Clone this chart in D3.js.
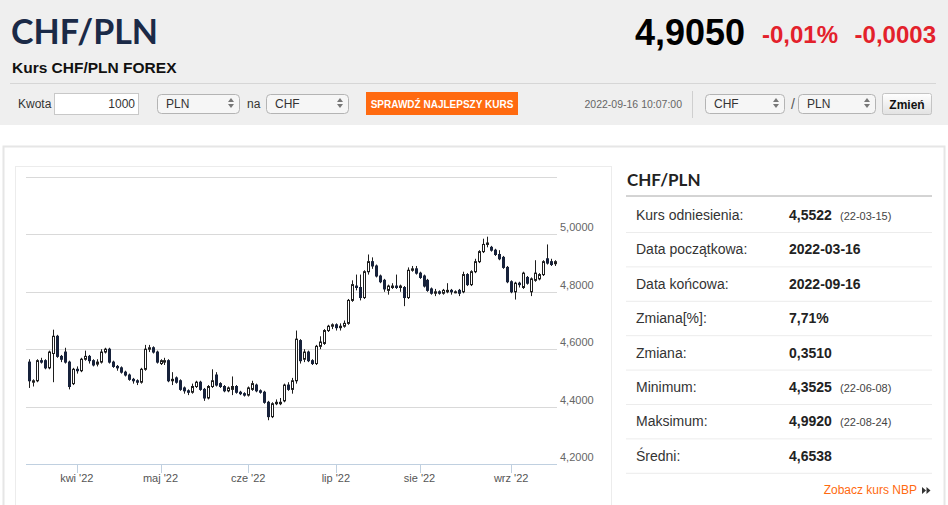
<!DOCTYPE html>
<html>
<head>
<meta charset="utf-8">
<script src="https://cdn.jsdelivr.net/npm/d3@7"></script>
<style>
  body { margin: 0; background: #fff; }
  svg { display: block; font-family: "Liberation Sans", Arial, sans-serif; }
</style>
</head>
<body>
<svg id="page" width="948" height="505"></svg>
<script>
// candles, one per trading day 2022-03-16 .. 2022-09-16
const open = [4.555,4.485,4.49,4.56,4.56,4.535,4.585,4.645,4.575,4.59,4.555,4.48,
  4.53,4.525,4.565,4.575,4.56,4.548,4.555,4.59,4.60,4.555,4.54,4.535,4.52,4.51,4.495,4.49,4.485,4.53,4.60,4.605,4.59,
  4.55,4.555,4.56,4.49,4.50,4.49,4.465,4.455,4.45,4.47,4.485,4.46,4.43,4.47,4.51,4.48,4.47,4.455,4.46,4.47,4.45,4.445,
  4.44,4.46,4.475,4.455,4.45,4.415,4.365,4.41,4.41,4.42,4.475,4.46,4.49,4.63,4.565,4.59,4.56,4.55,4.61,4.62,4.665,4.68,
  4.685,4.675,4.68,4.69,4.77,4.82,4.815,4.78,4.87,4.905,4.89,4.855,4.84,4.805,4.815,4.82,4.815,4.815,4.78,4.875,4.88,
  4.865,4.855,4.84,4.81,4.795,4.80,4.795,4.80,4.805,4.80,4.805,4.80,4.86,4.825,4.87,4.905,4.94,4.965,4.955,4.945,4.93,4.92,4.885,
  4.835,4.80,4.83,4.815,4.85,4.80,4.84,4.845,4.86,4.915,4.905,4.898];
const high = [4.565,4.495,4.565,4.57,4.565,4.595,4.668,4.65,4.58,4.605,4.56,4.535,
  4.54,4.57,4.595,4.58,4.565,4.565,4.60,4.605,4.605,4.56,4.545,4.54,4.525,4.515,4.50,4.495,4.535,4.615,4.615,4.61,4.595,
  4.565,4.57,4.565,4.52,4.505,4.495,4.47,4.46,4.48,4.49,4.49,4.465,4.475,4.53,4.52,4.485,4.475,4.47,4.505,4.475,4.455,4.45,
  4.47,4.49,4.48,4.46,4.455,4.42,4.415,4.425,4.43,4.48,4.485,4.50,4.665,4.635,4.60,4.595,4.565,4.615,4.645,4.67,4.685,4.69,
  4.69,4.69,4.70,4.775,4.84,4.86,4.86,4.875,4.93,4.92,4.895,4.86,4.845,4.825,4.83,4.86,4.825,4.82,4.885,4.89,4.89,
  4.87,4.86,4.845,4.815,4.81,4.805,4.81,4.83,4.81,4.805,4.81,4.87,4.865,4.875,4.915,4.945,4.985,4.992,4.96,4.95,4.945,4.925,4.89,
  4.84,4.835,4.835,4.87,4.855,4.85,4.91,4.865,4.91,4.965,4.915,4.91];
const low = [4.465,4.47,4.485,4.55,4.53,4.53,4.485,4.57,4.555,4.55,4.46,4.475,
  4.515,4.52,4.56,4.55,4.54,4.54,4.55,4.585,4.55,4.535,4.525,4.515,4.505,4.49,4.48,4.475,4.48,4.525,4.59,4.585,4.55,
  4.545,4.545,4.485,4.475,4.48,4.455,4.445,4.44,4.445,4.465,4.455,4.42,4.425,4.465,4.47,4.465,4.45,4.45,4.44,4.445,4.44,4.435,
  4.435,4.455,4.45,4.445,4.41,4.3525,4.36,4.405,4.405,4.415,4.455,4.445,4.48,4.55,4.555,4.555,4.545,4.545,4.60,4.615,4.66,4.67,
  4.665,4.665,4.675,4.685,4.765,4.805,4.77,4.775,4.86,4.88,4.85,4.83,4.80,4.79,4.81,4.81,4.80,4.75,4.775,4.87,4.86,
  4.845,4.815,4.80,4.79,4.785,4.79,4.79,4.795,4.79,4.795,4.785,4.795,4.82,4.82,4.865,4.90,4.935,4.955,4.94,4.925,4.91,4.88,4.83,
  4.795,4.773,4.815,4.81,4.825,4.785,4.835,4.84,4.855,4.895,4.89,4.89];
const close = [4.49,4.49,4.56,4.555,4.535,4.59,4.645,4.575,4.565,4.555,4.47,4.53,
  4.525,4.565,4.575,4.56,4.545,4.555,4.59,4.60,4.555,4.54,4.535,4.52,4.51,4.495,4.49,4.485,4.53,4.60,4.605,4.59,4.555,
  4.56,4.56,4.49,4.495,4.485,4.46,4.455,4.45,4.47,4.485,4.46,4.43,4.47,4.49,4.475,4.47,4.455,4.465,4.47,4.45,4.445,4.44,
  4.465,4.48,4.455,4.45,4.415,4.365,4.41,4.415,4.415,4.475,4.46,4.49,4.635,4.56,4.59,4.56,4.55,4.61,4.625,4.665,4.68,4.685,
  4.675,4.68,4.69,4.77,4.825,4.815,4.78,4.87,4.905,4.89,4.855,4.835,4.81,4.82,4.82,4.815,4.82,4.78,4.875,4.88,4.865,
  4.85,4.82,4.805,4.795,4.80,4.795,4.805,4.805,4.80,4.80,4.795,4.86,4.825,4.87,4.905,4.94,4.965,4.97,4.945,4.93,4.915,4.885,4.835,
  4.80,4.83,4.825,4.865,4.83,4.845,4.865,4.86,4.905,4.90,4.895,4.905];

const monthLabels = ["kwi '22", "maj '22", "cze '22", "lip '22", "sie '22", "wrz '22"];
const yTicks = [4.2, 4.4, 4.6, 4.8, 5.0, 5.2];

const statLabels = ["Kurs odniesienia:", "Data początkowa:", "Data końcowa:", "Zmiana[%]:", "Zmiana:", "Minimum:", "Maksimum:", "Średni:"];
const statValues = ["4,5522", "2022-03-16", "2022-09-16", "7,71%", "0,3510", "4,3525", "4,9920", "4,6538"];
const statNotes = ["(22-03-15)", "", "", "", "", "(22-06-08)", "(22-08-24)", ""];

// trading days (weekdays) of the period
const dates = [];
for (let d = new Date(2022, 2, 16); d <= new Date(2022, 8, 16); d.setDate(d.getDate() + 1)) {
  if (d.getDay() !== 0 && d.getDay() !== 6) dates.push(d3.timeFormat("%Y-%m-%d")(d));
}
const candles = dates.map((d, i) => ({ date: d, o: open[i], h: high[i], l: low[i], c: close[i] }));
const monthStarts = d3.groups(dates.slice(12), d => d.slice(0, 7)).map(g => g[1][0]);

const svg = d3.select("#page");
const comma = v => d3.format(".4f")(v).replace(".", ",");

// ---------- header ----------
svg.append("rect").attr("width", 948).attr("height", 125).attr("fill", "#efefef");
svg.append("text").attr("x", 11).attr("y", 44)
  .style("font-family", "Lato, 'Open Sans', sans-serif").style("font-weight", 700)
  .style("font-size", "34px").attr("fill", "#1b2a47").text("CHF/PLN");
svg.append("text").attr("x", 12).attr("y", 73)
  .style("font-weight", "bold").style("font-size", "15.5px").attr("fill", "#111")
  .text("Kurs CHF/PLN FOREX");

svg.append("text").attr("x", 745).attr("y", 45).attr("text-anchor", "end")
  .style("font-weight", "bold").style("font-size", "36px").attr("fill", "#000").text("4,9050");
svg.append("text").attr("x", 838).attr("y", 43).attr("text-anchor", "end")
  .style("font-weight", "bold").style("font-size", "24px").attr("fill", "#e3212b").text("-0,01%");
svg.append("text").attr("x", 936).attr("y", 43).attr("text-anchor", "end")
  .style("font-weight", "bold").style("font-size", "24px").attr("fill", "#e3212b").text("-0,0003");

svg.append("line").attr("x1", 10).attr("x2", 936).attr("y1", 83.5).attr("y2", 83.5)
  .attr("stroke", "#d6d6d6");

// toolbar
const small = (x, y, t, opts = {}) => svg.append("text").attr("x", x).attr("y", y)
  .style("font-size", (opts.size || 12) + "px").style("font-weight", opts.bold ? "bold" : "normal")
  .attr("text-anchor", opts.anchor || "start").attr("fill", opts.fill || "#333").text(t);

small(18, 108, "Kwota");
svg.append("rect").attr("x", 54.5).attr("y", 93.5).attr("width", 84).attr("height", 21)
  .attr("fill", "#fff").attr("stroke", "#c8c8c8");
small(135, 108, "1000", { anchor: "end" });

function selectBox(x, w, label) {
  svg.append("rect").attr("x", x + 0.5).attr("y", 94.5).attr("width", w).attr("height", 19).attr("rx", 4)
    .attr("fill", "#f6f6f6").attr("stroke", "#b4b4b4");
  small(x + 9, 108, label);
  const ax = x + w - 8;
  svg.append("path").attr("d", `M${ax - 3},102 L${ax + 3},102 L${ax},98 Z M${ax - 3},104 L${ax + 3},104 L${ax},108 Z`)
    .attr("fill", "#777");
}
selectBox(157, 82, "PLN");
small(247, 108, "na");
selectBox(266, 82, "CHF");

svg.append("rect").attr("x", 366).attr("y", 92).attr("width", 152).attr("height", 23).attr("fill", "#ff6a10");
small(442, 107.5, "SPRAWDŹ NAJLEPSZY KURS", { anchor: "middle", bold: true, size: 10, fill: "#fff" });

small(682, 108, "2022-09-16 10:07:00", { anchor: "end", size: 10.5, fill: "#666" });
svg.append("line").attr("x1", 692.5).attr("x2", 692.5).attr("y1", 91).attr("y2", 118).attr("stroke", "#cfcfcf");
selectBox(705, 79, "CHF");
small(793, 109, "/", { anchor: "middle", size: 14, fill: "#555" });
selectBox(798, 77, "PLN");
const grad = svg.append("defs").append("linearGradient").attr("id", "btn").attr("x2", 0).attr("y2", 1);
grad.append("stop").attr("offset", 0).attr("stop-color", "#ffffff");
grad.append("stop").attr("offset", 1).attr("stop-color", "#e2e2e2");
svg.append("rect").attr("x", 882.5).attr("y", 93.5).attr("width", 49).attr("height", 21).attr("rx", 2)
  .attr("fill", "url(#btn)").attr("stroke", "#c4c4c4");
small(907, 108.5, "Zmień", { anchor: "middle", bold: true, size: 12, fill: "#111" });

// ---------- panels ----------
svg.append("rect").attr("x", 3.5).attr("y", 146.5).attr("width", 941).attr("height", 380)
  .attr("fill", "#fff").attr("stroke", "#e6e6e6").attr("stroke-width", 2);
svg.append("rect").attr("x", 15.5).attr("y", 166.5).attr("width", 596).attr("height", 360)
  .attr("fill", "#fff").attr("stroke", "#ececec");

// ---------- chart ----------
const x = d3.scalePoint().domain(dates).range([29, 555]);
const y = d3.scaleLinear().domain([4.2, 5.2]).range([464, 177]);

const grid = svg.append("g");
grid.selectAll("line").data(yTicks.slice(1)).join("line")
  .attr("x1", 26).attr("x2", 557)
  .attr("y1", d => Math.round(y(d)) + 0.5).attr("y2", d => Math.round(y(d)) + 0.5)
  .attr("stroke", "#d9d9d9");

svg.append("g").selectAll("text").data(yTicks.slice(0, -1)).join("text")
  .attr("x", 560).attr("y", d => y(d) - 3)
  .style("font-size", "11px").attr("fill", "#666").text(comma);

const axis = svg.append("g");
axis.append("line").attr("x1", 26).attr("x2", 557).attr("y1", 464.5).attr("y2", 464.5).attr("stroke", "#c0d0e0");
axis.selectAll(".tick").data(monthStarts).join("line")
  .attr("x1", d => Math.round(x(d)) + 0.5).attr("x2", d => Math.round(x(d)) + 0.5)
  .attr("y1", 464).attr("y2", 473).attr("stroke", "#c0d0e0");
axis.selectAll("text").data(monthStarts).join("text")
  .attr("x", d => x(d)).attr("y", 482).attr("text-anchor", "middle")
  .style("font-size", "11px").attr("fill", "#555").text((d, i) => monthLabels[i]);

const up = "#ffffff", down = "#17223b", edge = "#1e1e1e";
const cg = svg.append("g");
cg.selectAll("line").data(candles).join("line")
  .attr("x1", d => Math.round(x(d.date)) + 0.5).attr("x2", d => Math.round(x(d.date)) + 0.5)
  .attr("y1", d => y(d.h)).attr("y2", d => y(d.l))
  .attr("stroke", edge);
cg.selectAll("rect").data(candles).join("rect")
  .attr("x", d => Math.round(x(d.date)) - 0.5)
  .attr("y", d => y(Math.max(d.o, d.c)))
  .attr("width", 2)
  .attr("height", d => Math.max(1, Math.abs(y(d.o) - y(d.c))))
  .attr("fill", d => d.c >= d.o ? up : down)
  .attr("stroke", d => d.c >= d.o ? edge : down);

// ---------- stats table ----------
svg.append("text").attr("x", 627).attr("y", 186)
  .style("font-family", "Lato, 'Open Sans', sans-serif").style("font-weight", 700)
  .style("font-size", "17px").attr("fill", "#222").text("CHF/PLN");
svg.append("line").attr("x1", 626).attr("x2", 932).attr("y1", 196).attr("y2", 196)
  .attr("stroke", "#a8a8a8");

const rowH = 34.4;
const rows = svg.append("g").selectAll("g").data(statLabels).join("g")
  .attr("transform", (d, i) => `translate(0,${215 + i * rowH})`);
rows.append("text").attr("x", 636).attr("y", 5).style("font-size", "14px").attr("fill", "#333").text(d => d);
rows.append("text").attr("x", 789).attr("y", 5).style("font-size", "14px").style("font-weight", "bold")
  .attr("fill", "#222").text((d, i) => statValues[i]);
rows.append("text").attr("x", 840).attr("y", 5).style("font-size", "11px").attr("fill", "#444")
  .text((d, i) => statNotes[i]);
rows.append("line").attr("x1", 626).attr("x2", 932).attr("y1", 17.5).attr("y2", 17.5).attr("stroke", "#ececec");

small(917, 494, "Zobacz kurs NBP", { anchor: "end", size: 12, fill: "#ff6a10" });
svg.append("path").attr("d", "M922,487 L926,490.5 L922,494 Z M926.5,487 L930.5,490.5 L926.5,494 Z").attr("fill", "#333");
</script>
</body>
</html>
